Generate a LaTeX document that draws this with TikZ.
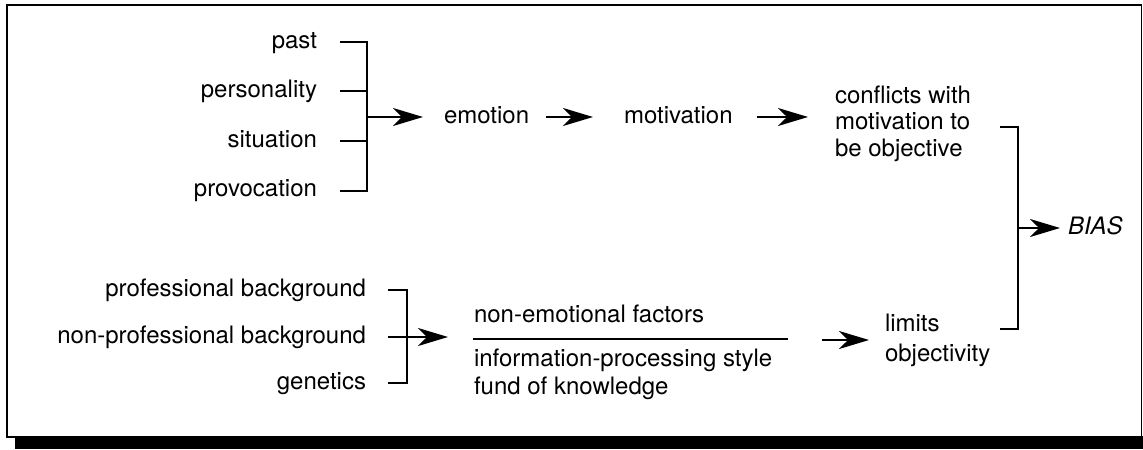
\documentclass[tikz,border=0pt]{standalone}
\usepackage{fontspec}
\setmainfont{TeX Gyre Heros}
\usetikzlibrary{arrows.meta}

\begin{document}
\begin{tikzpicture}[x=0.5pt,y=-0.5pt,line width=1pt]
\tikzstyle{txt}=[inner sep=0pt,font=\fontsize{12}{14}\selectfont]
\tikzstyle{word}=[txt,text height=8.6pt,text depth=2.5pt]
\tikzstyle{multi}=[txt,align=left,anchor=west]
\tikzstyle{arr}=[-{Stealth[length=15pt,width=9pt,inset=4.5pt]}]
\useasboundingbox (0,0) rectangle (1143,449);
% frame with shadow
\fill (15,436) rectangle (1143,449);
\draw[line width=0.9pt,fill=white] (7,5) rectangle (1141.5,437);

% emotional factors
\node[word,anchor=east] (past) at (318,42) {past};
\node[word,anchor=east] (personality) at ([yshift=-24.75pt]past.east) {personality};
\node[word,anchor=east] (situation) at ([yshift=-24.75pt]personality.east) {situation};
\node[word,anchor=east] (provocation) at ([yshift=-24.75pt]situation.east) {provocation};
\draw ([xshift=11pt]past.east) -| ([xshift=24.5pt]provocation.east) -- ([xshift=11pt]provocation.east);
\draw ([xshift=11pt]personality.east) -- ++(27,0);
\draw ([xshift=11pt]situation.east) -- ++(27,0);
\coordinate (topbar) at (367,117);

\node[word,anchor=west] (emotion) at (443,117) {emotion};
\node[word,anchor=west] (motivation) at (623,117) {motivation};
\node[multi,font=\fontsize{12}{13.25}\selectfont] (conflicts) at (834,123.5) {conflicts with\\motivation to\\be objective};
\draw[arr] (topbar) -- ([xshift=-10pt]emotion.west);
\draw[arr] ([xshift=8pt]emotion.east) -- ([xshift=-15pt]motivation.west);
\draw[arr] ([xshift=11.5pt]motivation.east) -- ([xshift=-13pt]motivation.east -| conflicts.west);

% non-emotional factors
\node[word,anchor=east] (profbg) at (367,290) {professional background};
\node[word,anchor=east] (nonprofbg) at ([yshift=-23.5pt]profbg.east) {non-professional background};
\node[word,anchor=east] (genetics) at ([yshift=-23pt]nonprofbg.east) {genetics};
\draw ([xshift=10.5pt]profbg.east) -| ([xshift=20pt]genetics.east) -- ([xshift=10.5pt]genetics.east);

\node[word,anchor=west] (factors) at (473,316) {non-emotional factors};
\node[multi] (styles) at (473,374) {information-processing style\\fund of knowledge};
\draw ([yshift=-11.5pt]factors.west) -- ++(315,0);
\draw[arr] ([xshift=10.5pt]nonprofbg.east) -- ([xshift=-12.5pt]factors.west |- nonprofbg.east);

\node[multi,font=\fontsize{12}{15}\selectfont] (limits) at (884,340) {limits\\objectivity};
\coordinate (nefout) at (822,340);
\draw[arr] (nefout) -- ([xshift=-7.5pt]limits.west);

% bias
\coordinate (brtop) at (1000,127);
\coordinate (brbot) at (1000,329);
\draw (brtop) -- ++(18,0) |- (brbot);
\coordinate (biasbar) at (1018,228);
\node[word,anchor=west,font=\fontsize{12}{14}\selectfont\itshape] (bias) at (1067,228) {BIAS};
\draw[arr] (biasbar) -- ([xshift=-3.5pt]bias.west);
\end{tikzpicture}
\end{document}
